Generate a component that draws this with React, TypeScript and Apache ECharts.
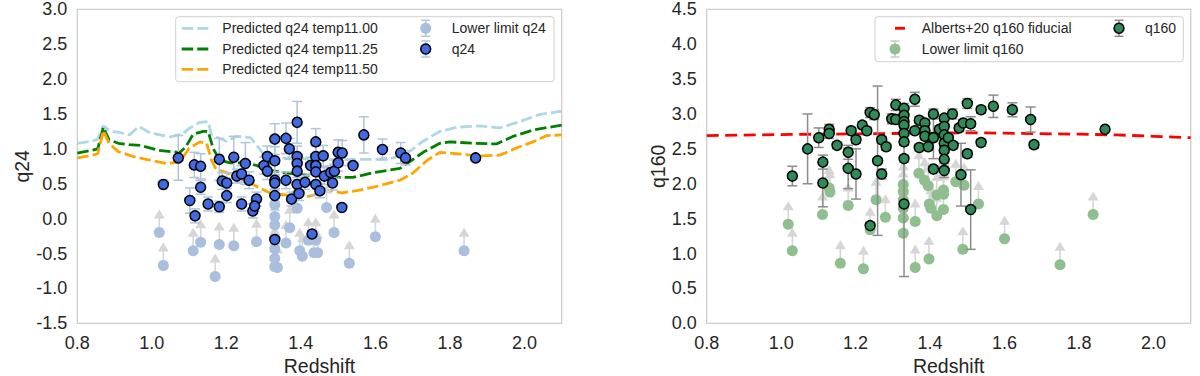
import React, { useEffect, useRef } from 'react';
import * as echarts from 'echarts';

const FONT = '"Liberation Sans", Arial, Helvetica, sans-serif';
const TEXT = '#262626';

// ---------- Left panel: q24 ----------
const Q24_X = [1.031, 1.071, 1.102, 1.116, 1.114, 1.131, 1.131, 1.151, 1.181, 1.181, 1.189, 1.201, 1.201, 1.22, 1.228, 1.241, 1.241, 1.251, 1.261, 1.271, 1.281, 1.276, 1.301, 1.31, 1.31, 1.33, 1.33, 1.33, 1.33, 1.33, 1.33, 1.36, 1.36, 1.369, 1.375, 1.39, 1.39, 1.39, 1.39, 1.39, 1.395, 1.411, 1.426, 1.43, 1.44, 1.44, 1.44, 1.44, 1.44, 1.451, 1.46, 1.463, 1.48, 1.485, 1.49, 1.5, 1.5, 1.51, 1.511, 1.54, 1.569, 1.619, 1.668, 1.681, 1.869];
const Q24_Y = [0.49, 0.87, 0.26, 0.04, 0.77, 0.75, 0.45, 0.21, 0.85, 0.17, 0.54, 0.51, 0.33, 0.88, 0.61, 0.64, 0.21, 0.79, 0.55, 0.11, 0.28, 0.18, 0.76, 0.89, 0.68, 1.14, 0.83, 0.55, 0.51, 0.33, -0.3, 1.15, 0.55, 1.0, 0.28, 1.38, 0.89, 0.79, 0.68, 0.49, 0.36, 0.52, 0.76, -0.22, 1.1, 0.89, 0.76, 0.67, 0.49, 0.4, 0.9, 0.61, 0.66, 0.51, 0.68, 0.95, 0.8, 0.16, 0.94, 0.76, 1.2, 0.99, 0.94, 0.87, 0.87];
const Q24_ERR = [0.06, 0.32, 0.18, 0.1, 0.18, 0.18, 0.1, 0.1, 0.3, 0.08, 0.12, 0.15, 0.1, 0.3, 0.1, 0.12, 0.1, 0.3, 0.12, 0.1, 0.1, 0.08, 0.12, 0.15, 0.12, 0.22, 0.2, 0.12, 0.1, 0.1, 0.06, 0.22, 0.12, 0.15, 0.1, 0.3, 0.15, 0.12, 0.12, 0.1, 0.1, 0.1, 0.12, 0.05, 0.19, 0.15, 0.12, 0.12, 0.15, 0.1, 0.15, 0.12, 0.1, 0.1, 0.1, 0.18, 0.12, 0.05, 0.18, 0.05, 0.26, 0.15, 0.15, 0.1, 0.03];

const LL24_X = [1.02, 1.031, 1.111, 1.131, 1.17, 1.181, 1.22, 1.281, 1.33, 1.33, 1.33, 1.33, 1.33, 1.33, 1.337, 1.36, 1.37, 1.39, 1.397, 1.404, 1.42, 1.44, 1.435, 1.445, 1.469, 1.489, 1.53, 1.6, 1.838];
const LL24_Y = [-0.2, -0.67, -0.46, -0.34, -0.83, -0.37, -0.39, -0.33, 0.2, 0.03, -0.09, -0.43, -0.57, -0.69, -0.7, -0.35, -0.13, 0.15, -0.46, -0.54, -0.31, -0.31, -0.49, -0.49, 0.16, -0.2, -0.64, -0.26, -0.46];

const P1100_X = [0.8, 0.84, 0.855, 0.87, 0.89, 0.91, 0.94, 0.965, 0.995, 1.05, 1.084, 1.102, 1.129, 1.151, 1.16, 1.2, 1.228, 1.265, 1.28, 1.305, 1.35, 1.4, 1.45, 1.5, 1.54, 1.6, 1.648, 1.684, 1.728, 1.773, 1.818, 1.88, 1.934, 1.987, 2.04, 2.1];
const P1100_Y = [1.08, 1.11, 1.14, 1.33, 1.25, 1.24, 1.2, 1.32, 1.23, 1.17, 1.22, 1.3, 1.38, 1.39, 1.2, 1.11, 1.18, 1.16, 1.06, 0.89, 0.87, 0.86, 0.85, 0.84, 0.85, 0.85, 0.87, 0.93, 1.11, 1.25, 1.31, 1.33, 1.3, 1.39, 1.49, 1.54];
const P1125_X = [0.8, 0.84, 0.855, 0.87, 0.885, 0.91, 0.94, 0.97, 1.017, 1.05, 1.075, 1.09, 1.111, 1.138, 1.151, 1.165, 1.182, 1.21, 1.25, 1.283, 1.31, 1.35, 1.4, 1.45, 1.505, 1.54, 1.594, 1.666, 1.728, 1.773, 1.8, 1.862, 1.925, 1.97, 2.023, 2.1];
const P1125_Y = [0.94, 0.98, 1.0, 1.31, 1.13, 1.08, 1.06, 1.05, 0.98, 0.96, 0.95, 1.02, 1.21, 1.25, 1.25, 1.0, 0.84, 0.8, 0.8, 0.76, 0.7, 0.66, 0.63, 0.61, 0.59, 0.59, 0.66, 0.72, 0.95, 1.08, 1.1, 1.08, 1.07, 1.18, 1.27, 1.34];
const P1150_X = [0.8, 0.84, 0.855, 0.87, 0.885, 0.91, 0.95, 0.994, 1.04, 1.075, 1.1, 1.129, 1.147, 1.16, 1.173, 1.195, 1.228, 1.263, 1.29, 1.32, 1.36, 1.414, 1.45, 1.47, 1.51, 1.55, 1.594, 1.666, 1.7, 1.74, 1.773, 1.818, 1.88, 1.934, 1.987, 2.023, 2.06, 2.1];
const P1150_Y = [0.87, 0.91, 0.93, 1.26, 1.08, 0.96, 0.89, 0.84, 0.79, 0.81, 1.01, 1.1, 1.08, 0.84, 0.7, 0.67, 0.6, 0.51, 0.44, 0.36, 0.34, 0.31, 0.36, 0.41, 0.37, 0.4, 0.45, 0.55, 0.65, 0.84, 0.95, 0.93, 0.9, 0.91, 1.03, 1.1, 1.19, 1.2];

// ---------- Right panel: q160 ----------
const Q160_X = [1.03, 1.071, 1.101, 1.112, 1.112, 1.129, 1.129, 1.15, 1.18, 1.18, 1.188, 1.201, 1.201, 1.218, 1.23, 1.239, 1.239, 1.25, 1.259, 1.27, 1.27, 1.282, 1.297, 1.308, 1.308, 1.33, 1.33, 1.33, 1.33, 1.33, 1.33, 1.33, 1.33, 1.359, 1.359, 1.371, 1.371, 1.386, 1.386, 1.386, 1.395, 1.409, 1.409, 1.409, 1.425, 1.438, 1.438, 1.438, 1.438, 1.438, 1.438, 1.438, 1.449, 1.46, 1.462, 1.478, 1.483, 1.489, 1.5, 1.5, 1.509, 1.509, 1.537, 1.537, 1.57, 1.621, 1.67, 1.679, 1.87];
const Q160_Y = [2.11, 2.5, 2.66, 2.31, 2.01, 2.78, 2.72, 2.55, 2.45, 2.22, 2.76, 2.63, 2.14, 2.84, 2.76, 3.02, 1.4, 2.99, 2.33, 2.63, 2.14, 2.53, 2.93, 3.13, 2.92, 3.08, 2.98, 2.89, 2.84, 2.72, 2.6, 2.36, 1.71, 3.21, 2.76, 2.91, 2.52, 2.87, 2.76, 2.68, 2.53, 3.0, 2.66, 2.21, 2.78, 2.94, 2.82, 2.7, 2.58, 2.48, 2.35, 2.19, 2.66, 3.0, 2.55, 2.8, 2.13, 2.87, 3.15, 2.43, 2.86, 1.63, 3.06, 2.59, 3.11, 3.06, 2.92, 2.56, 2.78];
const Q160_ERR = [0.14, 0.5, 0.14, 0.1, 0.34, 0.07, 0.07, 0.05, 0.1, 0.29, 0.05, 0.05, 0.36, 0.05, 0.05, 0.07, 0.05, 0.07, 1.07, 0.05, 0.07, 0.05, 0.07, 0.08, 0.06, 0.07, 0.07, 0.05, 0.05, 0.07, 0.05, 0.05, 1.04, 0.1, 0.05, 0.05, 0.05, 0.05, 0.05, 0.05, 0.05, 0.07, 0.3, 0.05, 0.05, 0.05, 0.05, 0.05, 0.05, 0.05, 0.1, 0.1, 0.05, 0.07, 0.05, 0.05, 0.45, 0.05, 0.07, 0.05, 0.1, 0.57, 0.05, 0.05, 0.16, 0.1, 0.18, 0.05, 0.03];

const LL160_X = [1.019, 1.03, 1.111, 1.129, 1.131, 1.159, 1.18, 1.221, 1.239, 1.255, 1.28, 1.328, 1.328, 1.328, 1.328, 1.328, 1.328, 1.36, 1.36, 1.37, 1.385, 1.395, 1.398, 1.402, 1.418, 1.418, 1.436, 1.436, 1.436, 1.397, 1.469, 1.491, 1.488, 1.53, 1.6, 1.749, 1.838];
const LL160_Y = [1.42, 1.04, 1.56, 1.94, 1.88, 0.86, 1.69, 0.78, 1.34, 1.77, 1.52, 1.99, 1.89, 1.77, 1.65, 1.51, 1.29, 1.46, 0.8, 2.15, 2.05, 1.97, 1.71, 1.65, 1.84, 1.54, 1.91, 1.85, 1.63, 0.92, 2.03, 1.98, 1.06, 1.71, 1.21, 0.84, 1.56];

const FID_X = [0.8, 1.0, 1.2, 1.4, 1.5, 1.6, 1.8, 1.9, 2.0, 2.1];
const FID_Y = [2.69, 2.705, 2.715, 2.725, 2.73, 2.725, 2.71, 2.7, 2.68, 2.66];

const zip2 = (a: number[], b: number[]) => a.map((v, i) => [v, b[i]]);
const zip3 = (a: number[], b: number[], c: number[]) => a.map((v, i) => [v, b[i], c[i]]);

function errBars(data: number[][], color: string, idx: number) {
  return {
    type: 'custom', xAxisIndex: idx, yAxisIndex: idx, z: 4, silent: true,
    data, encode: { x: 0, y: 1 },
    renderItem: (_p: any, api: any) => {
      const x = api.value(0), y = api.value(1), e = api.value(2);
      const t = api.coord([x, y + e]);
      const b = api.coord([x, y - e]);
      const st = { stroke: color, lineWidth: 1.5 };
      return {
        type: 'group', children: [
          { type: 'line', shape: { x1: t[0], y1: t[1], x2: b[0], y2: b[1] }, style: st },
          { type: 'line', shape: { x1: t[0] - 5, y1: t[1], x2: t[0] + 5, y2: t[1] }, style: st },
          { type: 'line', shape: { x1: b[0] - 5, y1: b[1], x2: b[0] + 5, y2: b[1] }, style: st },
        ],
      };
    },
  };
}

function arrows(data: number[][], idx: number) {
  return {
    type: 'custom', xAxisIndex: idx, yAxisIndex: idx, z: 2, silent: true,
    data, encode: { x: 0, y: 1 },
    renderItem: (_p: any, api: any) => {
      const p = api.coord([api.value(0), api.value(1)]);
      const c = '#d6d6d6';
      return {
        type: 'group', children: [
          { type: 'line', shape: { x1: p[0], y1: p[1], x2: p[0], y2: p[1] - 15 }, style: { stroke: c, lineWidth: 1.6 } },
          { type: 'polygon', shape: { points: [[p[0] - 5.5, p[1] - 14], [p[0] + 5.5, p[1] - 14], [p[0], p[1] - 23]] }, style: { fill: c } },
        ],
      };
    },
  };
}

function lineSeries(name: string, xs: number[], ys: number[], color: string, idx: number, dash: number[]) {
  return {
    name, type: 'line', xAxisIndex: idx, yAxisIndex: idx, z: 1, silent: true,
    data: zip2(xs, ys), showSymbol: false, symbol: 'none',
    lineStyle: { color, width: 2.8, type: dash },
  };
}

function scatter(name: string, data: number[][], fill: string, border: boolean, idx: number, z: number) {
  return {
    name, type: 'scatter', xAxisIndex: idx, yAxisIndex: idx, z, silent: true,
    data, symbolSize: border ? 10 : 11,
    itemStyle: border ? { color: fill, borderColor: '#000', borderWidth: 1.5, opacity: 1 } : { color: fill, opacity: 1 },
  };
}

function xAxis(idx: number) {
  return {
    type: 'value', gridIndex: idx, min: 0.8, max: 2.1, interval: 0.2,
    axisLine: { show: false }, axisTick: { show: false }, splitLine: { show: false },
    axisLabel: {
      fontSize: 18, color: TEXT, fontFamily: FONT, margin: 11, showMaxLabel: false,
      formatter: (v: number) => (v > 2.05 ? '' : v.toFixed(1)),
    },
  };
}

function yAxis(idx: number, min: number, max: number) {
  return {
    type: 'value', gridIndex: idx, min, max, interval: 0.5,
    axisLine: { show: false }, axisTick: { show: false }, splitLine: { show: false },
    axisLabel: { fontSize: 18, color: TEXT, fontFamily: FONT, margin: 10, formatter: (v: number) => v.toFixed(1) },
  };
}

function axisNames() {
  const nm = (x: number, y: number, text: string, rot: number) => ({
    type: 'text', x, y, rotation: rot, z: 50,
    style: { text, fontSize: 19.5, fontFamily: FONT, fill: TEXT, align: 'center', verticalAlign: 'middle' },
  });
  return [
    nm(319.5, 365.5, 'Redshift', 0),
    nm(948.7, 365.5, 'Redshift', 0),
    nm(22, 166.3, 'q24', Math.PI / 2),
    nm(658, 166.3, 'q160', Math.PI / 2),
  ];
}

function legendGraphics() {
  const t = (x: number, y: number, text: string) => ({
    type: 'text', x, y, z: 100,
    style: { text, fontSize: 14, fontFamily: FONT, fill: TEXT, verticalAlign: 'middle', align: 'left' },
  });
  const dashLine = (x1: number, x2: number, y: number, color: string, dash: number[]) => ({
    type: 'line', z: 100, shape: { x1, y1: y, x2, y2: y }, style: { stroke: color, lineWidth: 2.8, lineDash: dash },
  });
  const errMarker = (x: number, y: number, fill: string, bar: string, border: boolean) => ({
    type: 'group', z: 100, children: [
      { type: 'line', z: 100, shape: { x1: x, y1: y - 8, x2: x, y2: y + 8 }, style: { stroke: bar, lineWidth: 1.5 } },
      { type: 'line', z: 100, shape: { x1: x - 4.5, y1: y - 8, x2: x + 4.5, y2: y - 8 }, style: { stroke: bar, lineWidth: 1.5 } },
      { type: 'line', z: 100, shape: { x1: x - 4.5, y1: y + 8, x2: x + 4.5, y2: y + 8 }, style: { stroke: bar, lineWidth: 1.5 } },
      { type: 'circle', z: 101, shape: { cx: x, cy: y, r: border ? 5 : 5.5 }, style: border ? { fill, stroke: '#000', lineWidth: 1.5 } : { fill } },
    ],
  });
  const box = (x: number, y: number, w: number, h: number) => ({
    type: 'rect', z: 99, shape: { x, y, width: w, height: h, r: 3 },
    style: { fill: 'rgba(255,255,255,0.8)', stroke: '#d0d0d0', lineWidth: 1 },
  });
  return [
    box(175.7, 16.7, 378.3, 65),
    dashLine(181.7, 208.3, 28.3, '#add8e6', [11.5, 4]),
    dashLine(181.7, 208.3, 49, '#008000', [11.5, 4]),
    dashLine(181.7, 208.3, 69.3, '#ffa500', [11.5, 4]),
    t(222.3, 28.3, 'Predicted q24 temp11.00'),
    t(222.3, 49, 'Predicted q24 temp11.25'),
    t(222.3, 69.3, 'Predicted q24 temp11.50'),
    errMarker(425.7, 28.3, '#aabfdd', '#b0c4de', false),
    errMarker(425.7, 49, '#4169e1', '#b0c4de', true),
    t(451.7, 28.3, 'Lower limit q24'),
    t(451.7, 49, 'q24'),

    box(875, 16.7, 308.3, 45),
    { type: 'line', z: 100, shape: { x1: 895, y1: 28.3, x2: 905, y2: 28.3 }, style: { stroke: '#ff0000', lineWidth: 2.8 } },
    errMarker(895, 49, '#8fbf8f', '#c8c8c8', false),
    t(921.7, 28.3, 'Alberts+20 q160 fiducial'),
    t(921.7, 49, 'Lower limit q160'),
    errMarker(1119, 28.3, '#2e8b57', '#8c8c8c', true),
    t(1145, 28.3, 'q160'),
  ];
}

export default function App() {
  const ref = useRef<HTMLDivElement>(null);
  useEffect(() => {
    if (!ref.current) return;
    const chart = echarts.init(ref.current, undefined, { renderer: 'svg' });
    const gridStyle = { show: true, borderColor: '#cccccc', borderWidth: 1.25, backgroundColor: 'transparent', containLabel: false };
    chart.setOption({
      animation: false,
      backgroundColor: '#ffffff',
      textStyle: { fontFamily: FONT },
      grid: [
        { ...gridStyle, left: 77.3, top: 9.3, width: 484.4, height: 314 },
        { ...gridStyle, left: 706.7, top: 9.3, width: 484, height: 314 },
      ],
      xAxis: [xAxis(0), xAxis(1)],
      yAxis: [yAxis(0, -1.5, 3.0), yAxis(1, 0, 4.5)],
      series: [
        lineSeries('Predicted q24 temp11.00', P1100_X, P1100_Y, '#add8e6', 0, [11.5, 4]),
        lineSeries('Predicted q24 temp11.25', P1125_X, P1125_Y, '#008000', 0, [11.5, 4]),
        lineSeries('Predicted q24 temp11.50', P1150_X, P1150_Y, '#ffa500', 0, [11.5, 4]),
        arrows(zip2(LL24_X, LL24_Y), 0),
        scatter('Lower limit q24', zip2(LL24_X, LL24_Y), '#aabfdd', false, 0, 3),
        errBars(zip3(Q24_X, Q24_Y, Q24_ERR), '#b0c4de', 0),
        scatter('q24', zip2(Q24_X, Q24_Y), '#4169e1', true, 0, 5),

        lineSeries('Alberts+20 q160 fiducial', FID_X, FID_Y, '#ff0000', 1, [12, 6.5]),
        arrows(zip2(LL160_X, LL160_Y), 1),
        scatter('Lower limit q160', zip2(LL160_X, LL160_Y), '#8fbf8f', false, 1, 3),
        errBars(zip3(Q160_X, Q160_Y, Q160_ERR), '#8c8c8c', 1),
        scatter('q160', zip2(Q160_X, Q160_Y), '#2e8b57', true, 1, 5),
      ],
      graphic: [...axisNames(), ...legendGraphics()],
    });
    return () => chart.dispose();
  }, []);
  return <div ref={ref} style={{ position: 'fixed', left: 0, top: 0, width: 1200, height: 376, background: '#fff' }} />;
}
